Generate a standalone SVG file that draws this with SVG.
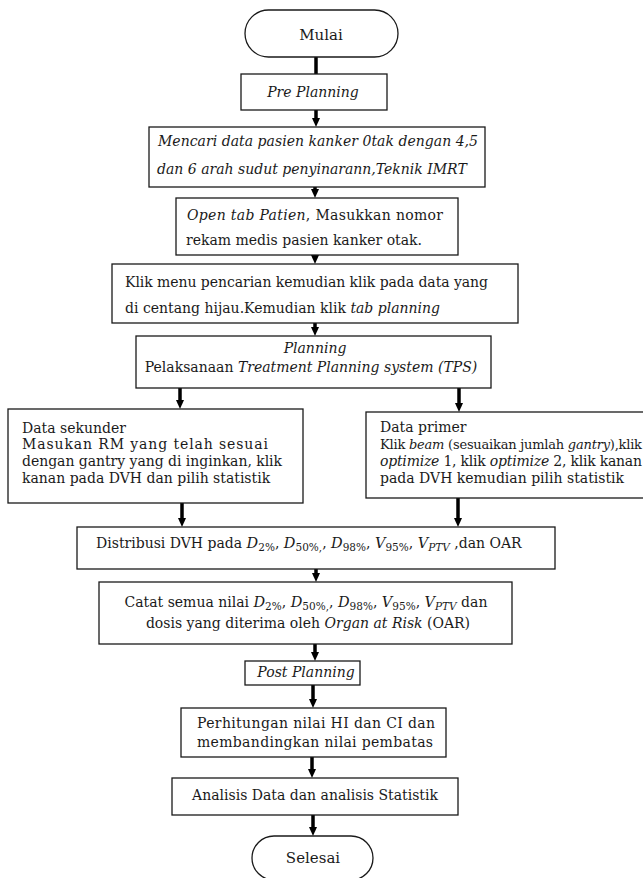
<svg xmlns="http://www.w3.org/2000/svg" width="643" height="878" viewBox="0 0 643 878">
<style>
.box{fill:#fff;stroke:#1a1a1a;stroke-width:1.3}
.t{font-family:"DejaVu Serif","Liberation Serif",serif;font-size:14px;fill:#1a1a1a}
.i{font-style:italic}
.m{font-style:italic;font-size:14.5px}
.sub{font-size:10.5px;font-style:normal}
.subi{font-size:10.5px;font-style:italic}
.c{text-anchor:middle}
.con{stroke:#000;stroke-width:3.5;fill:none}
.ah{stroke:#000;stroke-width:3.5;fill:none;marker-end:url(#arr)}
</style>
<defs>
<marker id="arr" markerUnits="userSpaceOnUse" markerWidth="10" markerHeight="8" refX="4" refY="4" orient="auto">
<path d="M0,0 L9,4 L0,8 z" fill="#000"/>
</marker>
</defs>
<rect width="643" height="878" fill="#fff"/>
<g id="connectors">
<line class="con" x1="316" y1="57" x2="316" y2="74"/>
<line class="ah" x1="316" y1="110" x2="316" y2="122"/>
<line class="ah" x1="315" y1="187" x2="315" y2="193"/>
<line class="ah" x1="315" y1="255" x2="315" y2="259"/>
<line class="ah" x1="315" y1="323" x2="315" y2="331"/>
<line class="ah" x1="180" y1="388" x2="180" y2="404"/>
<line class="ah" x1="459" y1="388" x2="459" y2="407"/>
<line class="ah" x1="182" y1="503" x2="182" y2="522"/>
<line class="ah" x1="458" y1="498" x2="458" y2="522"/>
<line class="ah" x1="316" y1="569" x2="316" y2="577"/>
<line class="ah" x1="315" y1="644" x2="315" y2="656"/>
<line class="ah" x1="313" y1="685" x2="313" y2="703"/>
<line class="ah" x1="312" y1="757" x2="312" y2="773"/>
<line class="ah" x1="313" y1="815" x2="313" y2="831"/>
</g>
<g id="mulai">
<rect class="box" x="245" y="10" width="153" height="47" rx="23.5"/>
<text class="t c" x="321" y="40" style="font-size:15px">Mulai</text>
</g>
<g id="pre-planning">
<rect class="box" x="241" y="74" width="146" height="36"/>
<text class="t i c" x="313" y="97">Pre Planning</text>
</g>
<g id="mencari">
<rect class="box" x="149" y="127" width="336" height="60"/>
<text class="t i" x="158" y="146" textLength="320" lengthAdjust="spacing">Mencari data pasien kanker 0tak dengan 4,5</text>
<text class="t i" x="157" y="174">dan 6 arah sudut penyinarann,Teknik IMRT</text>
</g>
<g id="open-tab">
<rect class="box" x="176" y="198" width="282" height="57"/>
<text class="t" x="187" y="220" textLength="256" lengthAdjust="spacing"><tspan class="i">Open tab Patien</tspan>, Masukkan nomor</text>
<text class="t" x="186" y="245">rekam medis pasien kanker otak.</text>
</g>
<g id="klik-menu">
<rect class="box" x="112" y="264" width="406" height="59"/>
<text class="t" x="125" y="287" textLength="363" lengthAdjust="spacing">Klik menu pencarian kemudian klik pada data yang</text>
<text class="t" x="125" y="313">di centang hijau.Kemudian klik <tspan class="i">tab planning</tspan></text>
</g>
<g id="planning">
<rect class="box" x="136" y="336" width="355" height="52"/>
<text class="t i c" x="315" y="353">Planning</text>
<text class="t c" x="311" y="372">Pelaksanaan <tspan class="i">Treatment Planning system (TPS)</tspan></text>
</g>
<g id="data-sekunder">
<rect class="box" x="8" y="409" width="295" height="94"/>
<text class="t" x="22" y="433">Data sekunder</text>
<text class="t" x="22" y="449" textLength="246" lengthAdjust="spacing">Masukan RM yang telah sesuai</text>
<text class="t" x="22" y="466" textLength="260" lengthAdjust="spacing">dengan gantry yang di inginkan, klik</text>
<text class="t" x="22" y="483">kanan pada DVH dan pilih statistik</text>
</g>
<g id="data-primer">
<rect class="box" x="366" y="412" width="300" height="86"/>
<text class="t" x="380" y="432">Data primer</text>
<text class="t" x="380" y="449" style="font-size:13px" textLength="262" lengthAdjust="spacing">Klik <tspan class="i">beam</tspan> (sesuaikan jumlah <tspan class="i">gantry</tspan>),klik</text>
<text class="t" x="380" y="466" textLength="262" lengthAdjust="spacing"><tspan class="i">optimize</tspan> 1, klik <tspan class="i">optimize</tspan> 2, klik kanan</text>
<text class="t" x="380" y="483">pada DVH kemudian pilih statistik</text>
</g>
<g id="distribusi">
<rect class="box" x="77" y="527" width="478" height="42"/>
<text class="t" x="96" y="548">Distribusi DVH pada <tspan class="m">D</tspan><tspan class="sub" dy="3">2%</tspan><tspan dy="-3">, </tspan><tspan class="m">D</tspan><tspan class="sub" dy="3">50%,</tspan><tspan dy="-3">, </tspan><tspan class="m">D</tspan><tspan class="sub" dy="3">98%</tspan><tspan dy="-3">, </tspan><tspan class="m">V</tspan><tspan class="sub" dy="3">95%</tspan><tspan dy="-3">, </tspan><tspan class="m">V</tspan><tspan class="subi" dy="3">PTV</tspan><tspan dy="-3"> ,dan OAR</tspan></text>
</g>
<g id="catat">
<rect class="box" x="99" y="582" width="413" height="62"/>
<text class="t c" x="306" y="607">Catat semua nilai <tspan class="m">D</tspan><tspan class="sub" dy="3">2%</tspan><tspan dy="-3">, </tspan><tspan class="m">D</tspan><tspan class="sub" dy="3">50%,</tspan><tspan dy="-3">, </tspan><tspan class="m">D</tspan><tspan class="sub" dy="3">98%</tspan><tspan dy="-3">, </tspan><tspan class="m">V</tspan><tspan class="sub" dy="3">95%</tspan><tspan dy="-3">, </tspan><tspan class="m">V</tspan><tspan class="subi" dy="3">PTV</tspan><tspan dy="-3"> dan</tspan></text>
<text class="t c" x="308" y="628">dosis yang diterima oleh <tspan class="i">Organ at Risk</tspan> (OAR)</text>
</g>
<g id="post-planning">
<rect class="box" x="245" y="661" width="115" height="24"/>
<text class="t i c" x="306" y="677">Post Planning</text>
</g>
<g id="perhitungan">
<rect class="box" x="181" y="708" width="265" height="49"/>
<text class="t" x="197" y="728" textLength="238" lengthAdjust="spacing">Perhitungan nilai HI dan CI dan</text>
<text class="t" x="197" y="747" textLength="236" lengthAdjust="spacing">membandingkan nilai pembatas</text>
</g>
<g id="analisis">
<rect class="box" x="172" y="778" width="286" height="37"/>
<text class="t c" x="315" y="800">Analisis Data dan analisis Statistik</text>
</g>
<g id="selesai">
<rect class="box" x="252" y="836" width="121" height="44" rx="22"/>
<text class="t c" x="313" y="863" style="font-size:15px">Selesai</text>
</g>
</svg>
